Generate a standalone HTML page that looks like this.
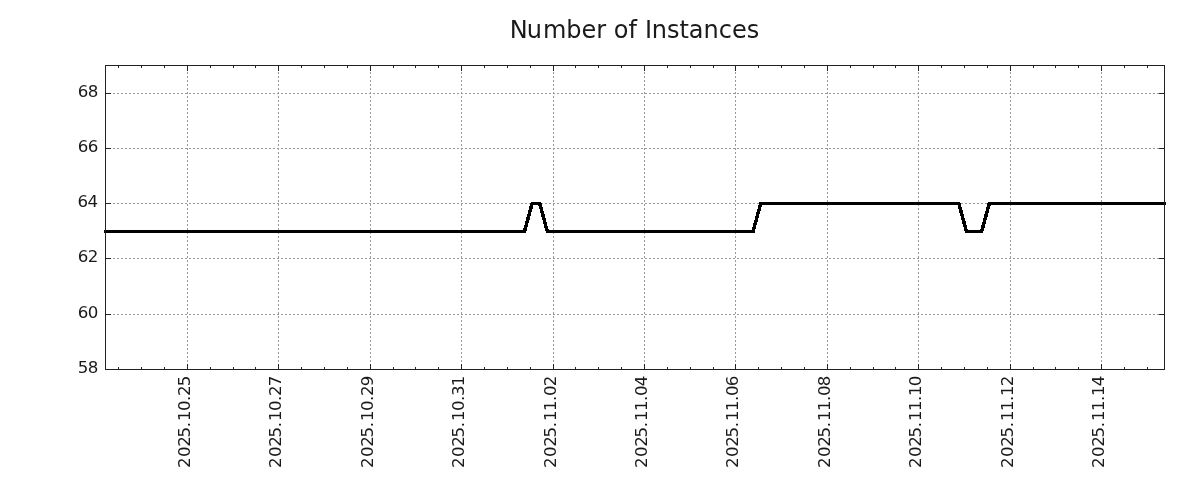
<!DOCTYPE html>
<html lang="en"><head><meta charset="utf-8"><title>Number of Instances</title>
<style>html,body{margin:0;padding:0;background:#fff;}body{width:1200px;height:500px;overflow:hidden;}svg{display:block;}text{font-family:"DejaVu Sans","Liberation Sans",sans-serif;}</style>
</head><body>
<svg width="1200" height="500" viewBox="0 0 1200 500">
<rect width="1200" height="500" fill="#fff"/>
<text x="634.5" y="38" font-size="24" text-anchor="middle" dx="0 -0.9 0.9 0 0 0 0 0 0 0 0.3 -0.3" fill="#1a1a1a">Number of Instances</text>
<g stroke="#999" stroke-width="1" stroke-dasharray="2 2" fill="none">
<line x1="105" x2="1164" y1="93.5" y2="93.5"/>
<line x1="105" x2="1164" y1="148.5" y2="148.5"/>
<line x1="105" x2="1164" y1="203.5" y2="203.5"/>
<line x1="105" x2="1164" y1="258.5" y2="258.5"/>
<line x1="105" x2="1164" y1="314.5" y2="314.5"/>
<line x1="187.5" x2="187.5" y1="370" y2="66"/>
<line x1="278.5" x2="278.5" y1="370" y2="66"/>
<line x1="370.5" x2="370.5" y1="370" y2="66"/>
<line x1="461.5" x2="461.5" y1="370" y2="66"/>
<line x1="553.5" x2="553.5" y1="370" y2="66"/>
<line x1="644.5" x2="644.5" y1="370" y2="66"/>
<line x1="735.5" x2="735.5" y1="370" y2="66"/>
<line x1="827.5" x2="827.5" y1="370" y2="66"/>
<line x1="918.5" x2="918.5" y1="370" y2="66"/>
<line x1="1010.5" x2="1010.5" y1="370" y2="66"/>
<line x1="1101.5" x2="1101.5" y1="370" y2="66"/>
</g>
<g stroke="#222" stroke-width="1" fill="none" shape-rendering="crispEdges">
<line x1="106" x2="111" y1="93.5" y2="93.5"/>
<line x1="1159" x2="1164" y1="93.5" y2="93.5"/>
<line x1="106" x2="111" y1="148.5" y2="148.5"/>
<line x1="1159" x2="1164" y1="148.5" y2="148.5"/>
<line x1="106" x2="111" y1="203.5" y2="203.5"/>
<line x1="1159" x2="1164" y1="203.5" y2="203.5"/>
<line x1="106" x2="111" y1="258.5" y2="258.5"/>
<line x1="1159" x2="1164" y1="258.5" y2="258.5"/>
<line x1="106" x2="111" y1="314.5" y2="314.5"/>
<line x1="1159" x2="1164" y1="314.5" y2="314.5"/>
<line x1="187.5" x2="187.5" y1="364" y2="369"/>
<line x1="187.5" x2="187.5" y1="66" y2="71"/>
<line x1="278.5" x2="278.5" y1="364" y2="369"/>
<line x1="278.5" x2="278.5" y1="66" y2="71"/>
<line x1="370.5" x2="370.5" y1="364" y2="369"/>
<line x1="370.5" x2="370.5" y1="66" y2="71"/>
<line x1="461.5" x2="461.5" y1="364" y2="369"/>
<line x1="461.5" x2="461.5" y1="66" y2="71"/>
<line x1="553.5" x2="553.5" y1="364" y2="369"/>
<line x1="553.5" x2="553.5" y1="66" y2="71"/>
<line x1="644.5" x2="644.5" y1="364" y2="369"/>
<line x1="644.5" x2="644.5" y1="66" y2="71"/>
<line x1="735.5" x2="735.5" y1="364" y2="369"/>
<line x1="735.5" x2="735.5" y1="66" y2="71"/>
<line x1="827.5" x2="827.5" y1="364" y2="369"/>
<line x1="827.5" x2="827.5" y1="66" y2="71"/>
<line x1="918.5" x2="918.5" y1="364" y2="369"/>
<line x1="918.5" x2="918.5" y1="66" y2="71"/>
<line x1="1010.5" x2="1010.5" y1="364" y2="369"/>
<line x1="1010.5" x2="1010.5" y1="66" y2="71"/>
<line x1="1101.5" x2="1101.5" y1="364" y2="369"/>
<line x1="1101.5" x2="1101.5" y1="66" y2="71"/>
<line x1="118.5" x2="118.5" y1="367" y2="369"/>
<line x1="118.5" x2="118.5" y1="66" y2="68"/>
<line x1="141.5" x2="141.5" y1="367" y2="369"/>
<line x1="141.5" x2="141.5" y1="66" y2="68"/>
<line x1="164.5" x2="164.5" y1="367" y2="369"/>
<line x1="164.5" x2="164.5" y1="66" y2="68"/>
<line x1="210.5" x2="210.5" y1="367" y2="369"/>
<line x1="210.5" x2="210.5" y1="66" y2="68"/>
<line x1="233.5" x2="233.5" y1="367" y2="369"/>
<line x1="233.5" x2="233.5" y1="66" y2="68"/>
<line x1="255.5" x2="255.5" y1="367" y2="369"/>
<line x1="255.5" x2="255.5" y1="66" y2="68"/>
<line x1="301.5" x2="301.5" y1="367" y2="369"/>
<line x1="301.5" x2="301.5" y1="66" y2="68"/>
<line x1="324.5" x2="324.5" y1="367" y2="369"/>
<line x1="324.5" x2="324.5" y1="66" y2="68"/>
<line x1="347.5" x2="347.5" y1="367" y2="369"/>
<line x1="347.5" x2="347.5" y1="66" y2="68"/>
<line x1="393.5" x2="393.5" y1="367" y2="369"/>
<line x1="393.5" x2="393.5" y1="66" y2="68"/>
<line x1="415.5" x2="415.5" y1="367" y2="369"/>
<line x1="415.5" x2="415.5" y1="66" y2="68"/>
<line x1="438.5" x2="438.5" y1="367" y2="369"/>
<line x1="438.5" x2="438.5" y1="66" y2="68"/>
<line x1="484.5" x2="484.5" y1="367" y2="369"/>
<line x1="484.5" x2="484.5" y1="66" y2="68"/>
<line x1="507.5" x2="507.5" y1="367" y2="369"/>
<line x1="507.5" x2="507.5" y1="66" y2="68"/>
<line x1="530.5" x2="530.5" y1="367" y2="369"/>
<line x1="530.5" x2="530.5" y1="66" y2="68"/>
<line x1="575.5" x2="575.5" y1="367" y2="369"/>
<line x1="575.5" x2="575.5" y1="66" y2="68"/>
<line x1="598.5" x2="598.5" y1="367" y2="369"/>
<line x1="598.5" x2="598.5" y1="66" y2="68"/>
<line x1="621.5" x2="621.5" y1="367" y2="369"/>
<line x1="621.5" x2="621.5" y1="66" y2="68"/>
<line x1="667.5" x2="667.5" y1="367" y2="369"/>
<line x1="667.5" x2="667.5" y1="66" y2="68"/>
<line x1="690.5" x2="690.5" y1="367" y2="369"/>
<line x1="690.5" x2="690.5" y1="66" y2="68"/>
<line x1="713.5" x2="713.5" y1="367" y2="369"/>
<line x1="713.5" x2="713.5" y1="66" y2="68"/>
<line x1="758.5" x2="758.5" y1="367" y2="369"/>
<line x1="758.5" x2="758.5" y1="66" y2="68"/>
<line x1="781.5" x2="781.5" y1="367" y2="369"/>
<line x1="781.5" x2="781.5" y1="66" y2="68"/>
<line x1="804.5" x2="804.5" y1="367" y2="369"/>
<line x1="804.5" x2="804.5" y1="66" y2="68"/>
<line x1="850.5" x2="850.5" y1="367" y2="369"/>
<line x1="850.5" x2="850.5" y1="66" y2="68"/>
<line x1="873.5" x2="873.5" y1="367" y2="369"/>
<line x1="873.5" x2="873.5" y1="66" y2="68"/>
<line x1="895.5" x2="895.5" y1="367" y2="369"/>
<line x1="895.5" x2="895.5" y1="66" y2="68"/>
<line x1="941.5" x2="941.5" y1="367" y2="369"/>
<line x1="941.5" x2="941.5" y1="66" y2="68"/>
<line x1="964.5" x2="964.5" y1="367" y2="369"/>
<line x1="964.5" x2="964.5" y1="66" y2="68"/>
<line x1="987.5" x2="987.5" y1="367" y2="369"/>
<line x1="987.5" x2="987.5" y1="66" y2="68"/>
<line x1="1033.5" x2="1033.5" y1="367" y2="369"/>
<line x1="1033.5" x2="1033.5" y1="66" y2="68"/>
<line x1="1055.5" x2="1055.5" y1="367" y2="369"/>
<line x1="1055.5" x2="1055.5" y1="66" y2="68"/>
<line x1="1078.5" x2="1078.5" y1="367" y2="369"/>
<line x1="1078.5" x2="1078.5" y1="66" y2="68"/>
<line x1="1124.5" x2="1124.5" y1="367" y2="369"/>
<line x1="1124.5" x2="1124.5" y1="66" y2="68"/>
<line x1="1147.5" x2="1147.5" y1="367" y2="369"/>
<line x1="1147.5" x2="1147.5" y1="66" y2="68"/>
</g>
<polyline shape-rendering="crispEdges" fill="none" stroke="#000" stroke-width="3.47" stroke-linejoin="miter" points="104,231.5 524.48,231.5 532.1,203.5 539.72,203.5 547.34,231.5 753.08,231.5 760.7,203.5 958.82,203.5 966.44,231.5 981.68,231.5 989.3,203.5 1166,203.5"/>
<rect x="105.5" y="65.5" width="1059.0" height="304.0" stroke="#222" stroke-width="1" fill="none" shape-rendering="crispEdges"/>
<g font-size="16.67" fill="#1a1a1a" text-anchor="end" letter-spacing="-0.7">
<text x="97.6" y="97.0">68</text>
<text x="97.6" y="152.0">66</text>
<text x="97.4" y="207.0">64</text>
<text x="97.6" y="262.0">62</text>
<text x="97.6" y="318.0">60</text>
<text x="97.6" y="373.0">58</text>
</g>
<g font-size="16.67" fill="#1a1a1a">
<text transform="translate(190.2 0) rotate(-90)" x="-467.96 -457.05 -446.83 -437.57 -427.15 -421.07 -411.05 -400.90 -395.96 -386.20" y="0">2025.10.25</text>
<text transform="translate(281.2 0) rotate(-90)" x="-467.96 -457.05 -446.83 -437.57 -427.15 -421.07 -411.05 -400.90 -395.96 -386.20" y="0">2025.10.27</text>
<text transform="translate(373.2 0) rotate(-90)" x="-467.96 -457.05 -446.83 -437.57 -427.15 -421.07 -411.05 -400.90 -395.96 -386.20" y="0">2025.10.29</text>
<text transform="translate(464.2 0) rotate(-90)" x="-467.96 -457.05 -446.83 -437.57 -427.15 -421.07 -411.05 -400.90 -395.96 -386.20" y="0">2025.10.31</text>
<text transform="translate(556.2 0) rotate(-90)" x="-467.96 -457.05 -446.83 -437.57 -427.15 -421.07 -411.05 -400.90 -395.96 -386.20" y="0">2025.11.02</text>
<text transform="translate(647.2 0) rotate(-90)" x="-467.96 -457.05 -446.83 -437.57 -427.15 -421.07 -411.05 -400.90 -395.96 -386.20" y="0">2025.11.04</text>
<text transform="translate(738.2 0) rotate(-90)" x="-467.96 -457.05 -446.83 -437.57 -427.15 -421.07 -411.05 -400.90 -395.96 -386.20" y="0">2025.11.06</text>
<text transform="translate(830.2 0) rotate(-90)" x="-467.96 -457.05 -446.83 -437.57 -427.15 -421.07 -411.05 -400.90 -395.96 -386.20" y="0">2025.11.08</text>
<text transform="translate(921.2 0) rotate(-90)" x="-467.96 -457.05 -446.83 -437.57 -427.15 -421.07 -411.05 -400.90 -395.96 -386.20" y="0">2025.11.10</text>
<text transform="translate(1013.2 0) rotate(-90)" x="-467.96 -457.05 -446.83 -437.57 -427.15 -421.07 -411.05 -400.90 -395.96 -386.20" y="0">2025.11.12</text>
<text transform="translate(1104.2 0) rotate(-90)" x="-467.96 -457.05 -446.83 -437.57 -427.15 -421.07 -411.05 -400.90 -395.96 -386.20" y="0">2025.11.14</text>
</g>
</svg></body></html>
